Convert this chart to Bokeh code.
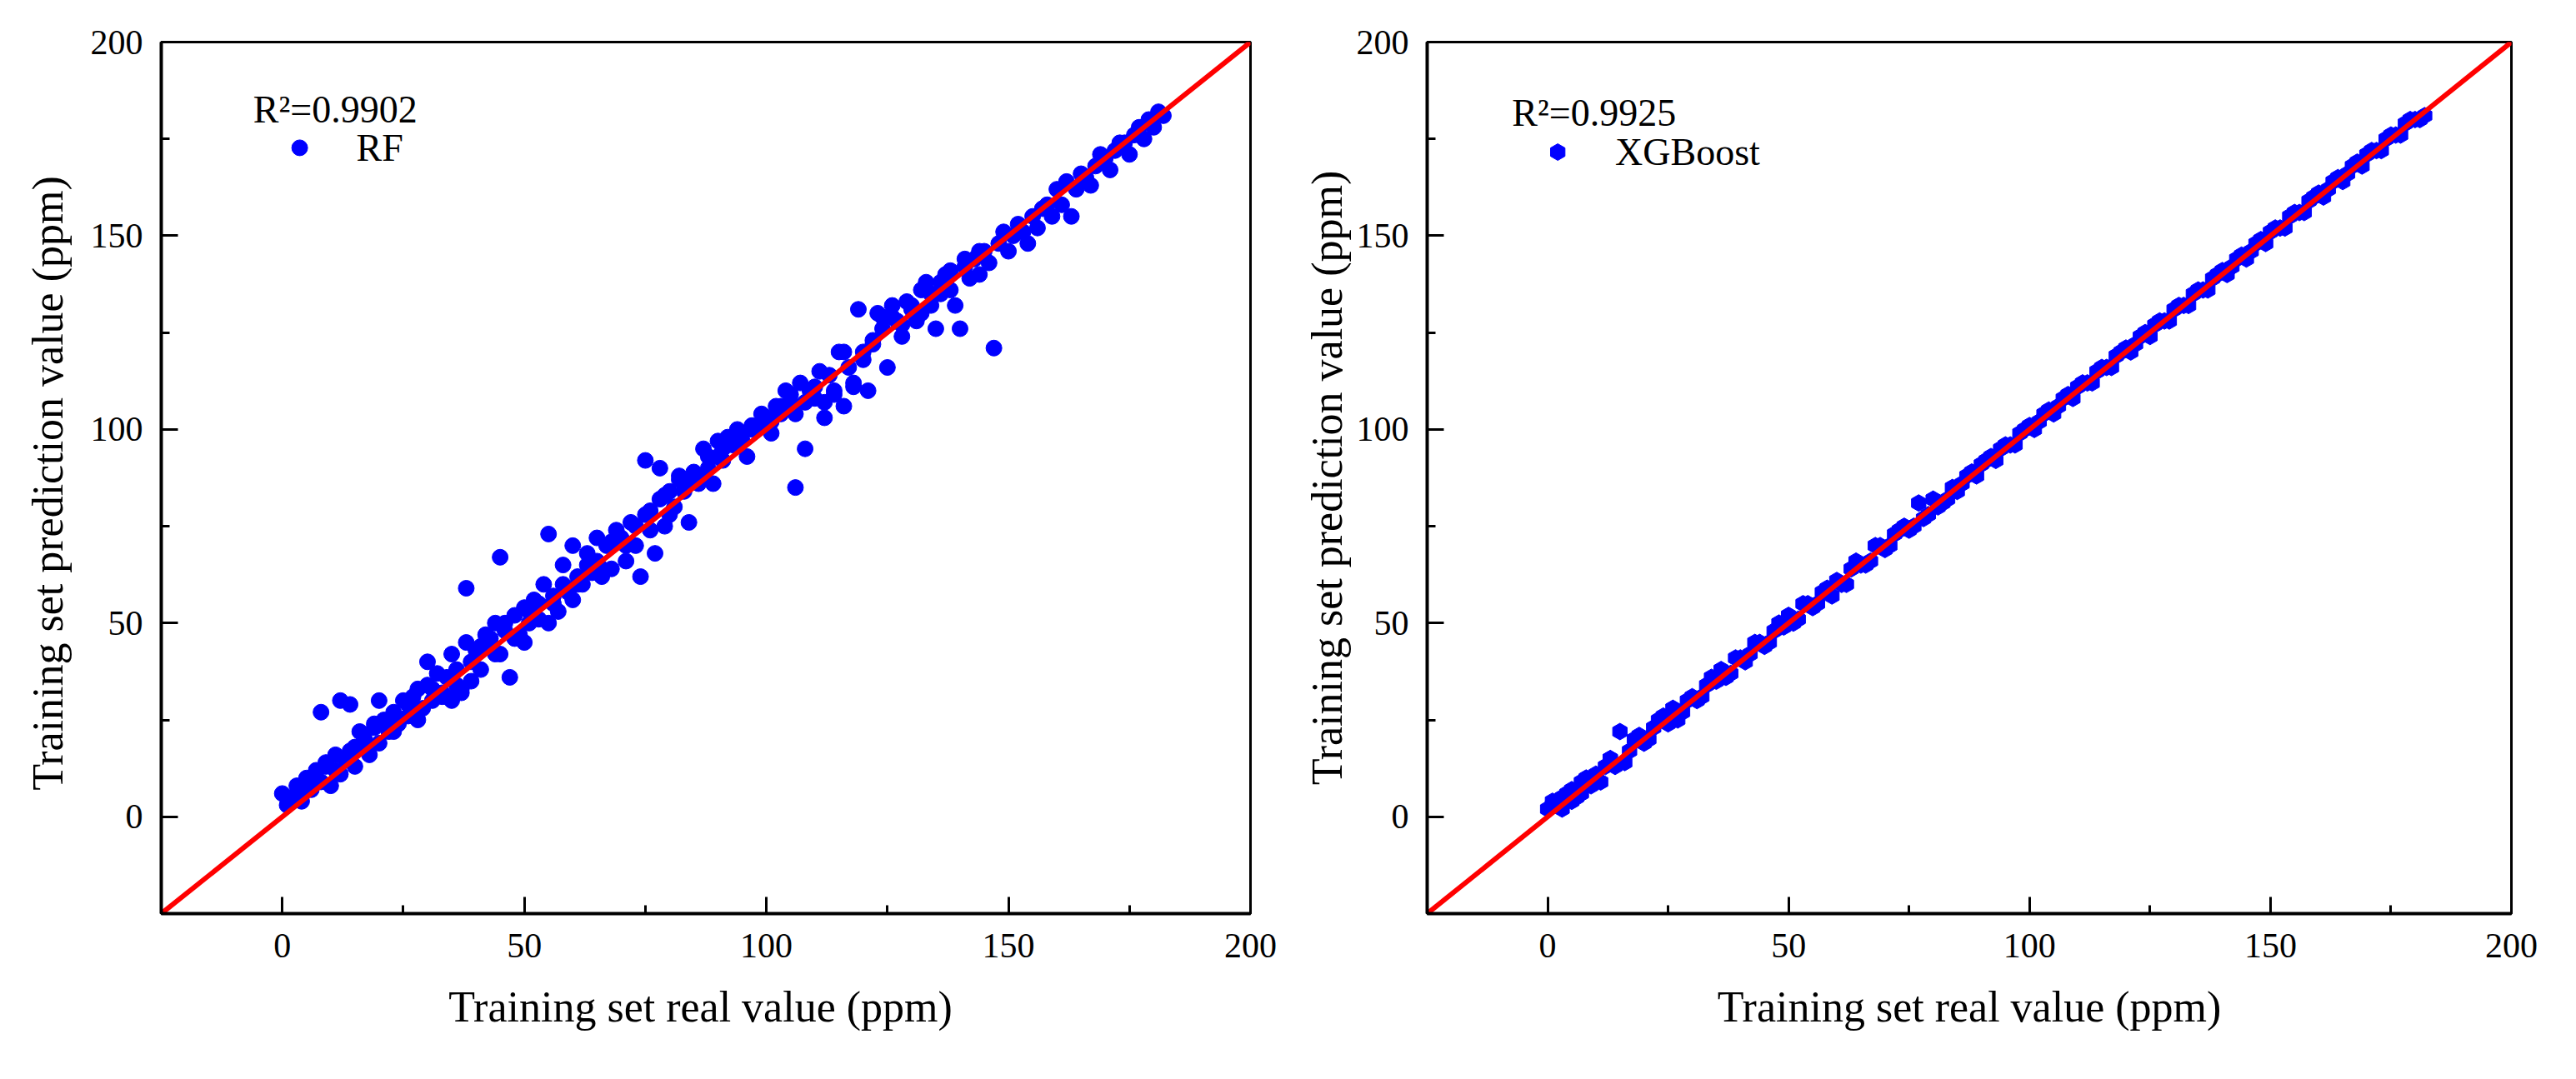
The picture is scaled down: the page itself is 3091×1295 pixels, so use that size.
from bokeh.plotting import figure
from bokeh.layouts import row
from bokeh.models import FixedTicker
from bokeh.core.properties import value
from bokeh.embed import file_html
from bokeh.resources import INLINE

# RF training set: real vs predicted (ppm)
rf_real = [0, 1, 2, 3, 4, 5, 6, 7, 8, 8, 9, 10, 11, 12, 12, 13, 14, 15, 15, 16, 17, 18, 19, 20, 20,
           22, 23, 24, 25, 26, 27, 28, 29, 30, 30, 31, 32, 33, 34, 35, 35, 36, 37, 38, 38, 39, 40,
           41, 42, 43, 44, 45, 45, 46, 47, 48, 49, 50, 50, 51, 52, 53, 54, 55, 55, 56, 57, 58, 59,
           60, 60, 61, 62, 63, 64, 65, 65, 66, 67, 68, 69, 70, 71, 72, 73, 74, 75, 75, 76, 77, 78,
           78, 79, 80, 80, 81, 82, 83, 84, 85, 86, 87, 88, 89, 90, 90, 91, 92, 93, 94, 95, 96, 97,
           98, 99, 100, 101, 102, 103, 104, 105, 106, 106, 107, 108, 109, 110, 111, 112, 113, 114,
           115, 116, 117, 118, 119, 120, 121, 122, 123, 124, 125, 126, 127, 128, 129, 130, 131, 132,
           133, 134, 135, 136, 137, 138, 139, 140, 141, 142, 143, 144, 145, 146, 147, 148, 150, 151,
           152, 154, 155, 156, 158, 159, 160, 161, 162, 163, 164, 166, 167, 168, 170, 171, 172, 174,
           175, 176, 177, 178, 179, 180, 181, 182,
           2, 4, 6, 9, 11, 14, 17, 19, 21, 23, 26, 28, 31, 33, 34, 36, 37, 39, 41, 43, 44, 46, 48,
           51, 53, 56, 58, 61, 63, 66, 68, 71, 73, 76, 79, 82, 84, 86, 88, 91, 93, 95, 97, 99, 101,
           103, 105, 108, 110, 112, 114, 116, 118, 120, 122, 124, 126, 128, 130, 132, 134, 136,
           138, 141, 144, 149, 153, 157, 165, 169, 173]
rf_pred = [6, 3, 5, 8, 4, 10, 7, 12, 9, 27, 14, 8, 16, 30, 11, 15, 29, 18, 13, 22, 20, 16, 24, 19, 30,
           22, 27, 24, 30, 26, 31, 33, 28, 40, 34, 30, 37, 32, 36, 42, 30, 38, 32, 59, 45, 40, 43,
           38, 47, 44, 50, 67, 42, 48, 36, 52, 47, 54, 45, 50, 56, 51, 60, 73, 50, 57, 53, 65, 58,
           70, 56, 62, 60, 68, 63, 72, 66, 62, 70, 64, 74, 72, 66, 76, 70, 62, 92, 78, 74, 68, 90,
           82, 75, 84, 78, 80, 88, 84, 76, 89, 86, 95, 90, 86, 97, 93, 92, 98, 96, 100, 97, 93, 101,
           100, 104, 103, 99, 106, 104, 110, 107, 85, 104, 112, 95, 110, 108, 115, 103, 114, 110,
           120, 106, 116, 111, 131, 118, 110, 122, 130, 126, 116, 132, 128, 124, 133, 131, 128, 136,
           138, 132, 126, 135, 140, 136, 132, 126, 142, 139, 144, 140, 146, 143, 121, 148, 146, 150,
           153, 148, 155, 152, 158, 155, 162, 158, 164, 155, 162, 165, 163, 168, 170, 167, 172, 174,
           171, 176, 178, 175, 180, 178, 182, 181,
           4, 7, 9, 13, 12, 17, 19, 23, 25, 22, 29, 25, 33, 31, 31, 34, 33, 35, 44, 46, 42, 50, 46,
           53, 55, 55, 60, 60, 65, 64, 71, 70, 75, 79, 83, 87, 86, 88, 93, 95, 97, 99, 100, 101, 102,
           106, 109, 107, 111, 107, 109, 120, 112, 120, 123, 129, 129, 127, 132, 130, 135, 138,
           141, 144, 146, 151, 151, 157, 166, 171, 174]

# XGBoost training set
xgb_real = [0, 1, 2, 3, 4, 5, 6, 7, 8, 9, 10, 12, 13, 14, 15, 17, 18, 20, 22, 23, 25, 26, 28, 30,
            31, 33, 35, 36, 38, 40, 42, 44, 45, 47, 49, 50, 52, 54, 55, 57, 59, 60, 62, 64, 66, 68,
            70, 72, 74, 75, 77, 79, 80, 82, 84, 86, 88, 90, 92, 94, 96, 98, 100, 102, 104, 106, 108,
            110, 112, 114, 116, 118, 120, 122, 124, 126, 128, 130, 132, 134, 136, 138, 140, 142,
            144, 146, 148, 150, 152, 154, 156, 158, 160, 162, 164, 166, 168, 170, 172, 174, 176,
            178, 180, 182,
            1, 3, 5, 7, 9, 11, 13, 16, 19, 21, 24, 27, 29, 32, 34, 37, 39, 41, 43, 46, 48, 51, 53,
            56, 58, 61, 63, 65, 67, 69, 71, 73, 76, 78, 81, 83, 85, 87, 89, 91, 93, 95, 97, 99, 101,
            103, 105, 107, 109, 111, 113, 115, 117, 119, 121, 123, 125, 127, 129, 131, 133, 135,
            137, 139, 141, 143, 145, 147, 149, 151, 153, 155, 157, 159, 161, 163, 165, 167, 169,
            171, 173, 175, 177, 179, 181]
xgb_pred = [2, 4, 3, 5, 6, 7, 5, 9, 10, 8, 11, 13, 15, 13, 22, 17, 20, 19, 23, 25, 24, 28, 27, 31,
            30, 34, 35, 38, 37, 41, 42, 45, 44, 48, 49, 52, 51, 55, 54, 58, 57, 61, 60, 66, 65, 70,
            69, 73, 75, 74, 81, 78, 82, 81, 85, 86, 89, 91, 93, 95, 96, 99, 101, 102, 105, 106, 109,
            111, 112, 115, 116, 119, 121, 122, 125, 127, 128, 131, 132, 135, 136, 139, 141, 142,
            145, 146, 149, 151, 152, 155, 156, 159, 161, 162, 165, 166, 169, 171, 172, 175, 176,
            179, 180, 181,
            3, 2, 4, 6, 10, 9, 15, 14, 21, 20, 26, 25, 30, 31, 36, 36, 41, 40, 45, 45, 50, 50, 55,
            55, 59, 60, 64, 65, 66, 70, 70, 74, 75, 77, 80, 82, 84, 88, 88, 92, 92, 96, 96, 100, 100,
            104, 104, 108, 108, 112, 112, 116, 116, 120, 120, 124, 124, 128, 128, 132, 132, 136,
            136, 140, 140, 144, 144, 148, 148, 152, 152, 156, 156, 160, 160, 164, 164, 168, 168,
            172, 172, 176, 176, 180, 180]

ticks = [0, 50, 100, 150, 200]
minor = [-25, 25, 75, 125, 175]
line_pts = [-25, 200]
FONT = "Liberation Serif"


def make_panel(width, height, bl, br, bt, bb, ylab_standoff):
    p = figure(width=width, height=height, x_range=(-25, 200), y_range=(-25, 200),
               output_backend="svg", toolbar_location=None,
               min_border_left=bl, min_border_right=br, min_border_top=bt, min_border_bottom=bb)
    p.grid.visible = False
    p.outline_line_color = "black"
    p.outline_line_width = 3
    p.outline_line_alpha = 1
    for ax in (p.xaxis[0], p.yaxis[0]):
        ax.ticker = FixedTicker(ticks=ticks, minor_ticks=minor)
        ax.major_tick_in = 20
        ax.major_tick_out = 0
        ax.minor_tick_in = 10
        ax.minor_tick_out = 0
        ax.major_tick_line_width = 3
        ax.minor_tick_line_width = 3
        ax.axis_line_width = 4
        ax.major_label_text_font = FONT
        ax.major_label_text_font_size = "42px"
        ax.major_label_text_color = "black"
        ax.axis_label_text_font = FONT
        ax.axis_label_text_font_size = "52px"
        ax.axis_label_text_font_style = "normal"
        ax.axis_label_text_color = "black"
    p.xaxis.major_label_standoff = 24
    p.yaxis.major_label_standoff = 22
    p.xaxis.axis_label_standoff = 28
    p.yaxis.axis_label_standoff = ylab_standoff
    p.yaxis.major_label_orientation = "horizontal"
    return p


p1 = make_panel(1560, 1270, 193, 60, 42, 156, 20)
p1.xaxis.axis_label = "Training set real value  (ppm)"
p1.yaxis.axis_label = "Training set prediction value  (ppm)"
p1.scatter(rf_real, rf_pred, size=19, color="#0000ff", marker="circle")
p1.line(line_pts, line_pts, line_width=6, color="#ff0000")
p1.text([-6], [182.6], text=["R²=0.9902"], text_font=value(FONT), text_font_size="46px",
        text_baseline="alphabetic")
p1.scatter([3.6], [172.7], size=19, color="#0000ff", marker="circle")
p1.text([15.3], [172.7], text=["RF"], text_font=value(FONT), text_font_size="46px",
        text_baseline="middle")

p2 = make_panel(1520, 1270, 147, 67, 50, 174, 4)
p2.xaxis.axis_label = "Training set real value (ppm)"
p2.yaxis.axis_label = "Training set prediction value (ppm)"
p2.scatter(xgb_real, xgb_pred, size=20, color="#0000ff", marker="hex", angle=1.5708)
p2.line(line_pts, line_pts, line_width=6, color="#ff0000")
p2.text([-7.4], [181.7], text=["R²=0.9925"], text_font=value(FONT), text_font_size="46px",
        text_baseline="alphabetic")
p2.scatter([2.1], [171.6], size=20, color="#0000ff", marker="hex", angle=1.5708)
p2.text([14.0], [171.6], text=["XGBoost"], text_font=value(FONT), text_font_size="46px",
        text_baseline="middle")

layout = row(p1, p2)
open("out.html", "w").write(file_html(layout, INLINE))
